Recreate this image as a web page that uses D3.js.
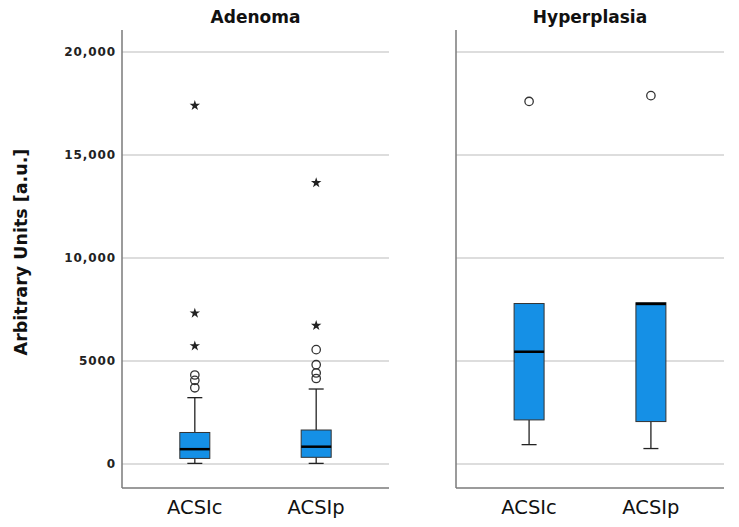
<!DOCTYPE html>
<html><head><meta charset="utf-8">
<script src="https://cdn.jsdelivr.net/npm/d3@7"></script>
<style>body{margin:0;background:#fff}svg{display:block}</style>
</head><body>
<svg id="c" width="739" height="527"></svg>
<script>
const panels = ["Adenoma", "Hyperplasia"];
const categories = ["ACSIc", "ACSIp"];
const yTicks = [0, 5000, 10000, 15000, 20000];
const yTickLabels = ["0", "5000", "10,000", "15,000", "20,000"];
// box stats per panel per category: [whiskerLow, Q1, median, Q3, whiskerHigh]
const adenomaStats = [[30, 270, 720, 1530, 3220], [30, 325, 840, 1650, 3640]];
const hyperplasiaStats = [[940, 2140, 5450, 7790, 7790], [750, 2060, 7770, 7830, 7830]];
// outliers (circles) and extremes (stars)
const adenomaCircles = [[4320, 4060, 3700], [5550, 4820, 4420, 4150]];
const adenomaStars = [[17400, 7320, 5730], [13650, 6720]];
const hyperplasiaCircles = [[17600], [17880]];
const hyperplasiaStars = [[], []];

const statsByPanel = [adenomaStats, hyperplasiaStats];
const circlesByPanel = [adenomaCircles, hyperplasiaCircles];
const starsByPanel = [adenomaStars, hyperplasiaStars];

const svg = d3.select("#c");
const y = d3.scaleLinear().domain([0, 20000]).range([464, 52]);
const panelX = [[122, 389], [456, 724]];
const axisTop = 30, axisBottom = 488;
const fill = "#1590e6";

svg.append("text")
  .attr("transform", `translate(27,252) rotate(-90)`)
  .attr("text-anchor", "middle")
  .attr("font-family", "DejaVu Sans").attr("font-weight", "bold")
  .attr("font-size", 17.5).attr("fill", "#111")
  .text("Arbitrary Units [a.u.]");

panels.forEach((name, pi) => {
  const [x0, x1] = panelX[pi];
  const g = svg.append("g");
  const x = d3.scalePoint().domain(categories).range([x0, x1]).padding(0.6);

  g.selectAll(".grid").data(yTicks).join("line")
    .attr("x1", x0).attr("x2", x1)
    .attr("y1", d => y(d)).attr("y2", d => y(d))
    .attr("stroke", "#d2d2d2").attr("stroke-width", 1.5);

  g.append("line").attr("x1", x0).attr("x2", x0).attr("y1", axisTop).attr("y2", axisBottom)
    .attr("stroke", "#7a7a7a").attr("stroke-width", 1.5);
  g.append("line").attr("x1", x0).attr("x2", x1).attr("y1", axisBottom).attr("y2", axisBottom)
    .attr("stroke", "#7a7a7a").attr("stroke-width", 1.5);

  if (pi === 0) {
    g.selectAll(".tl").data(yTicks).join("text")
      .attr("x", x0 - 6).attr("y", d => y(d)).attr("dy", "0.36em")
      .attr("text-anchor", "end")
      .attr("font-family", "DejaVu Sans").attr("font-weight", "bold")
      .attr("font-size", 12).attr("letter-spacing", 0.9).attr("fill", "#222")
      .text((d, i) => yTickLabels[i]);
  }

  g.append("text").attr("x", (x0 + x1) / 2).attr("y", 23)
    .attr("text-anchor", "middle")
    .attr("font-family", "DejaVu Sans").attr("font-weight", "bold")
    .attr("font-size", 17).attr("fill", "#111").text(name);

  g.selectAll(".cl").data(categories).join("text")
    .attr("x", d => x(d)).attr("y", 514)
    .attr("text-anchor", "middle")
    .attr("font-family", "DejaVu Sans").attr("font-size", 19.5).attr("fill", "#111")
    .text(d => d);

  const bw = 30, cw = 15;
  categories.forEach((c, ci) => {
    const s = statsByPanel[pi][ci];
    const cx = x(c);
    const bg = g.append("g");
    bg.append("line").attr("x1", cx).attr("x2", cx).attr("y1", y(s[0])).attr("y2", y(s[1]))
      .attr("stroke", "#222").attr("stroke-width", 1.3);
    bg.append("line").attr("x1", cx).attr("x2", cx).attr("y1", y(s[3])).attr("y2", y(s[4]))
      .attr("stroke", "#222").attr("stroke-width", 1.3);
    bg.append("line").attr("x1", cx - cw / 2).attr("x2", cx + cw / 2).attr("y1", y(s[0])).attr("y2", y(s[0]))
      .attr("stroke", "#222").attr("stroke-width", 1.3);
    if (s[4] > s[3]) {
      bg.append("line").attr("x1", cx - cw / 2).attr("x2", cx + cw / 2).attr("y1", y(s[4])).attr("y2", y(s[4]))
        .attr("stroke", "#222").attr("stroke-width", 1.3);
    }
    bg.append("rect").attr("x", cx - bw / 2).attr("width", bw)
      .attr("y", y(s[3])).attr("height", y(s[1]) - y(s[3]))
      .attr("fill", fill).attr("stroke", "#333").attr("stroke-width", 1);
    bg.append("line").attr("x1", cx - bw / 2).attr("x2", cx + bw / 2)
      .attr("y1", y(s[2])).attr("y2", y(s[2]))
      .attr("stroke", "#000").attr("stroke-width", 2.5);
    bg.selectAll(".o").data(circlesByPanel[pi][ci]).join("circle")
      .attr("cx", cx).attr("cy", d => y(d)).attr("r", 4.2)
      .attr("fill", "none").attr("stroke", "#333").attr("stroke-width", 1.3);
    bg.selectAll(".s").data(starsByPanel[pi][ci]).join("path")
      .attr("transform", d => `translate(${cx},${y(d)})`)
      .attr("d", d3.symbol().type(d3.symbolStar).size(34))
      .attr("fill", "#222");
  });
});
</script>
</body></html>
